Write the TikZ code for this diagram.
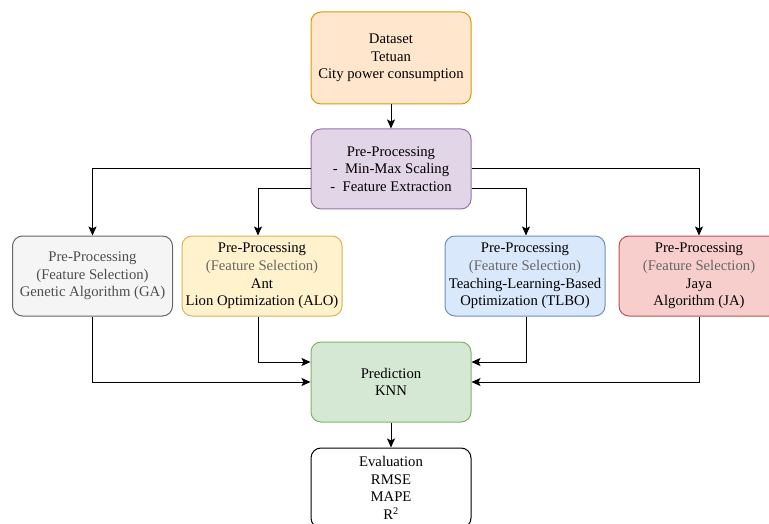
\documentclass[tikz,border=0pt]{standalone}
\usepackage{fontspec}
\setmainfont{Liberation Serif}
\usetikzlibrary{arrows.meta}
\definecolor{orfill}{HTML}{FFE6CC}\definecolor{ordraw}{HTML}{D79B00}
\definecolor{pufill}{HTML}{E1D5E7}\definecolor{pudraw}{HTML}{9673A6}
\definecolor{grfill}{HTML}{F5F5F5}\definecolor{grdraw}{HTML}{666666}
\definecolor{yefill}{HTML}{FFF2CC}\definecolor{yedraw}{HTML}{D6B656}
\definecolor{blfill}{HTML}{DAE8FC}\definecolor{bldraw}{HTML}{6C8EBF}
\definecolor{refill}{HTML}{F8CECC}\definecolor{redraw}{HTML}{B85450}
\definecolor{gnfill}{HTML}{D5E8D4}\definecolor{gndraw}{HTML}{82B366}
\definecolor{fsgray}{HTML}{666666}
\definecolor{gatext}{HTML}{4D4D4D}
\newcommand{\fs}{\textcolor{fsgray}{(Feature Selection)}}
\tikzset{
  box/.style={rounded corners=10pt, line width=1pt, minimum width=160pt, minimum height=80pt,
    inner sep=0pt, align=center, font=\fontsize{14.7}{17.6}\selectfont},
  arr/.style={line width=1pt, -{Stealth[length=9pt,width=8pt,inset=2pt]}},
}
\begin{document}
\begin{tikzpicture}[x=1pt,y=-1pt]
\useasboundingbox (0,0) rectangle (769,524);
\node[box, fill=orfill, draw=ordraw, minimum height=92pt] (data) at (391,58) {Dataset\\Tetuan\\City power consumption};
\node[box, fill=pufill, draw=pudraw] (pre) at (391,169) {Pre-Processing\\ -\ \ Min-Max Scaling\\ -\ \ Feature Extraction};
\node[box, fill=grfill, draw=grdraw, text=gatext] (ga) at (92.5,276) {Pre-Processing\\(Feature Selection)\\Genetic Algorithm (GA)};
\node[box, fill=yefill, draw=yedraw] (alo) at (262,276) {Pre-Processing\\\fs\\Ant\\Lion Optimization (ALO)};
\node[box, fill=blfill, draw=bldraw] (tlbo) at (525,276) {Pre-Processing\\\fs\\Teaching-Learning-Based\\Optimization (TLBO)};
\node[box, fill=refill, draw=redraw] (ja) at (699,276) {Pre-Processing\\\fs\\Jaya\\Algorithm (JA)};
\node[box, fill=gnfill, draw=gndraw] (pred) at (391,382) {Prediction\\KNN};
\node[box, fill=white, draw=black] (eval) at (391,488) {Evaluation\\RMSE\\MAPE\\R\textsuperscript{2}};
\draw[arr] (data) -- (pre);
\draw[arr] (pre.west) -| (ga.north);
\draw[arr] ([yshift=-20pt]pre.west) -| ([xshift=-4pt]alo.north);
\draw[arr] ([yshift=-20pt]pre.east) -| ([xshift=1pt]tlbo.north);
\draw[arr] (pre.east) -| (ja.north);
\draw[arr] (ga.south) |- (pred.west);
\draw[arr] ([xshift=-4pt]alo.south) |- ([yshift=20pt]pred.west);
\draw[arr] ([xshift=1pt]tlbo.south) |- ([yshift=20pt]pred.east);
\draw[arr] (ja.south) |- (pred.east);
\draw[arr] (pred) -- (eval);
\end{tikzpicture}
\end{document}
